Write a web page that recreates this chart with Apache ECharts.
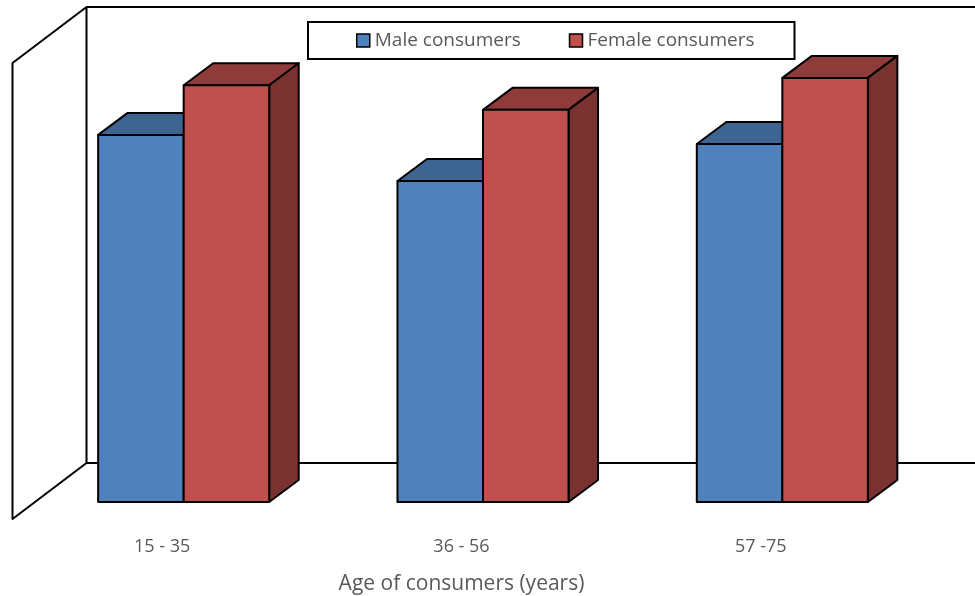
<!DOCTYPE html>
<html>
<head>
<meta charset="utf-8">
<style>html,body{margin:0;padding:0;background:#fff}#chart{width:975px;height:596px}</style>
<script src="https://cdn.jsdelivr.net/npm/echarts@6/dist/echarts.min.js"></script>
</head>
<body>
<div id="chart"></div>
<script>
// Share of male and female consumers per age band (%)
const ageGroups = ['15 - 35', '36 - 56', '57 -75'];
const maleValues = [80.5, 70.4, 78.5];
const femaleValues = [91.4, 86.0, 93.0];

const seriesNames = ['Male consumers', 'Female consumers'];
const maleColors = { front: '#4F81BD', top: '#3E6592', side: '#345479' };
const femaleColors = { front: '#C0504D', top: '#8F3B39', side: '#7A3230' };

const TEXT = '#595959';
const FONT = '"Open Sans", Lato, sans-serif';
const EDGE = { stroke: '#000', lineWidth: 2, lineJoin: 'round' };

// Oblique projection: depth of the floor, and of the boxes standing on it
const WALL_DX = 74, WALL_DY = -56;
const BOX_DX = 29.5, BOX_DY = -22;
const INSET_DX = 21.5, INSET_DY = -17;
const BAR_SHARE = 1 / 3.5;

function poly(points, fill) {
  return { type: 'polygon', shape: { points }, style: { ...EDGE, fill } };
}

// A box sits on either side of the band centre; slot 0 is left, slot 1 is right
function boxRenderer(slot, colors) {
  return function (params, api) {
    const base = api.coord([api.value(0), 0]);
    const head = api.coord([api.value(0), api.value(1)]);
    const w = api.size([1, 0])[0] * BAR_SHARE;
    const x0 = base[0] + INSET_DX + (slot - 1) * w;
    const x1 = x0 + w;
    const yb = base[1] + INSET_DY;
    const yt = head[1] + INSET_DY;
    return {
      type: 'group',
      children: [
        poly([[x0, yt], [x1, yt], [x1 + BOX_DX, yt + BOX_DY], [x0 + BOX_DX, yt + BOX_DY]], colors.top),
        poly([[x1, yb], [x1, yt], [x1 + BOX_DX, yt + BOX_DY], [x1 + BOX_DX, yb + BOX_DY]], colors.side),
        poly([[x0, yt], [x1, yt], [x1, yb], [x0, yb]], colors.front)
      ]
    };
  };
}

// Side wall plus the outlines of the back wall and floor
function wallRenderer(params, api) {
  const c = params.coordSys;
  const left = c.x, top = c.y, bottom = c.y + c.height;
  const right = api.getWidth();
  const bx = left + WALL_DX;
  const line = (x1, y1, x2, y2) => ({
    type: 'line', shape: { x1, y1, x2, y2 }, style: { stroke: '#000', lineWidth: 2, fill: null }
  });
  return {
    type: 'group',
    children: [
      poly([[left, bottom], [left, top], [bx, top + WALL_DY], [bx, bottom + WALL_DY]], '#fff'),
      line(bx, top + WALL_DY, right, top + WALL_DY),
      line(bx, bottom + WALL_DY, right, bottom + WALL_DY)
    ]
  };
}

const chart = echarts.init(document.getElementById('chart'), null, { renderer: 'canvas' });

chart.setOption({
  animation: false,
  backgroundColor: '#fff',
  grid: { left: 12.5, top: 63, width: 898, height: 456, outerBoundsMode: 'none' },
  legend: {
    data: seriesNames,
    left: 308,
    top: 22,
    orient: 'horizontal',
    padding: [9, 40, 9, 48],
    itemGap: 48,
    itemWidth: 13,
    itemHeight: 13,
    borderColor: '#000',
    borderWidth: 2,
    backgroundColor: '#fff',
    selectedMode: false,
    icon: 'rect',
    itemStyle: { borderColor: '#000', borderWidth: 1.5 },
    textStyle: { color: TEXT, fontFamily: FONT, fontSize: 19, padding: [0, 0, 0, 0] }
  },
  xAxis: {
    type: 'category',
    data: ageGroups,
    name: 'Age of consumers (years)',
    nameLocation: 'middle',
    nameGap: 55,
    nameTextStyle: { color: TEXT, fontFamily: FONT, fontSize: 21 },
    axisLine: { show: false },
    axisTick: { show: false },
    axisLabel: { color: TEXT, fontFamily: FONT, fontSize: 18, margin: 19 }
  },
  yAxis: {
    type: 'value',
    min: 0,
    max: 100,
    name: 'Male / Female (%)',
    nameLocation: 'middle',
    nameRotate: 90,
    nameGap: -21,
    nameTextStyle: { color: TEXT, fontFamily: FONT, fontSize: 21 },
    axisLine: { show: false },
    axisTick: { show: false },
    axisLabel: { show: false },
    splitLine: { show: false }
  },
  series: [
    {
      type: 'custom',
      name: 'walls',
      silent: true,
      z: 1,
      data: [[0, 0]],
      renderItem: wallRenderer
    },
    {
      type: 'custom',
      name: seriesNames[0],
      z: 2,
      itemStyle: { color: maleColors.front },
      data: maleValues.map((v, i) => [i, v]),
      encode: { x: 0, y: 1 },
      renderItem: boxRenderer(0, maleColors)
    },
    {
      type: 'custom',
      name: seriesNames[1],
      z: 3,
      itemStyle: { color: femaleColors.front },
      data: femaleValues.map((v, i) => [i, v]),
      encode: { x: 0, y: 1 },
      renderItem: boxRenderer(1, femaleColors)
    }
  ]
});
</script>
</body>
</html>
